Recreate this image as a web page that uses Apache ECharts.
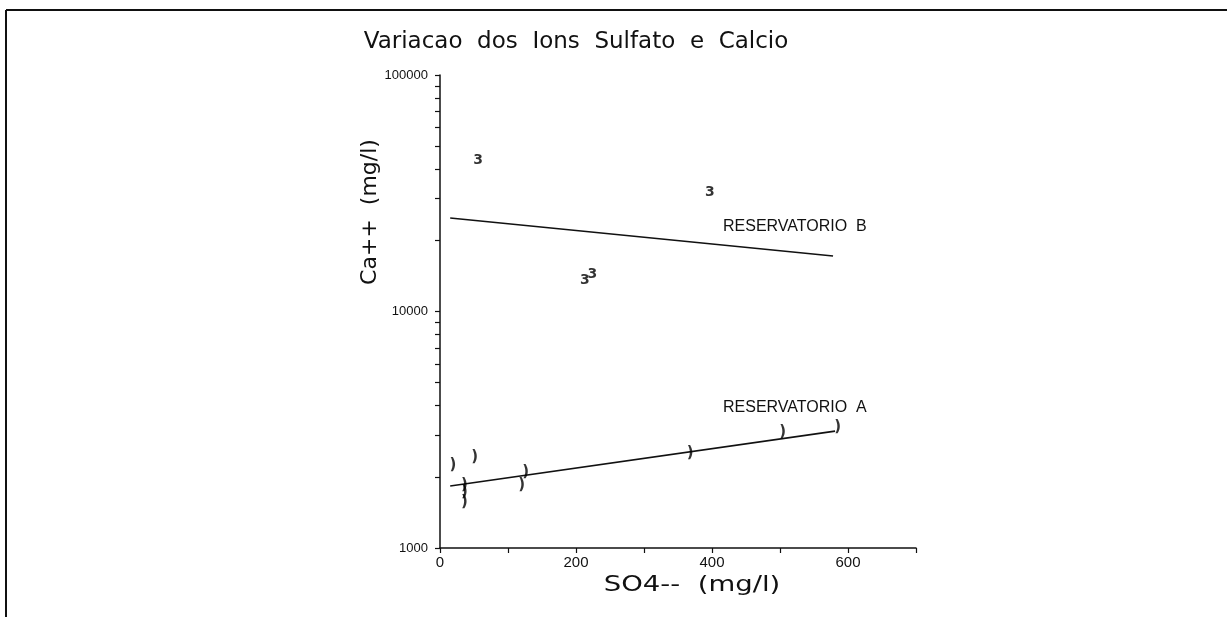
<!DOCTYPE html>
<html>
<head>
<meta charset="utf-8">
<title>Variacao dos Ions Sulfato e Calcio</title>
<script src="https://cdn.jsdelivr.net/npm/echarts@6/dist/echarts.min.js"></script>
<style>
  html, body { margin: 0; padding: 0; background: #fff; }
  #chart { width: 1227px; height: 617px; }
</style>
</head>
<body>
<div id="chart"></div>
<script>
// Reservatorio A samples: sulfate (mg/l) vs calcium (mg/l)
const so4A = [19, 51, 36, 36, 36, 126, 120, 368, 504, 585];
const caA  = [2240, 2430, 1850, 1720, 1570, 2100, 1850, 2530, 3090, 3250];

// Reservatorio B samples
const so4B = [56, 397, 213, 224];
const caB  = [43700, 32000, 13600, 14300];

// Fitted trend lines (end points)
const fitA_x = [15, 581];
const fitA_y = [1830, 3120];
const fitB_x = [15, 578];
const fitB_y = [24850, 17170];

// Axis ticks and labels
const xTicks = [0, 100, 200, 300, 400, 500, 600, 700];
const xLabels = [0, 200, 400, 600];
const yTicks = [1000, 2000, 3000, 4000, 5000, 6000, 7000, 8000, 9000,
                10000, 20000, 30000, 40000, 50000, 60000, 70000, 80000, 90000, 100000];
const yLabels = [1000, 10000, 100000];

const titleText = 'Variacao  dos  Ions  Sulfato  e  Calcio';
const xName = 'SO4--  (mg/l)';
const yName = 'Ca++  (mg/l)';
const labelA = 'RESERVATORIO  A';
const labelB = 'RESERVATORIO  B';

const ink = '#111';
const chart = echarts.init(document.getElementById('chart'), null, { renderer: 'canvas' });

function pairs(xs, ys) { return xs.map((x, i) => [x, ys[i]]); }

// Scatter drawn with a character as the point marker
function glyphSeries(name, xs, ys, glyph, font) {
  return {
    name: name,
    type: 'scatter',
    data: pairs(xs, ys),
    symbol: 'circle',
    symbolSize: 2,
    itemStyle: { color: 'rgba(0,0,0,0)' },
    label: {
      show: true,
      position: 'inside',
      formatter: glyph,
      color: '#000',
      fontFamily: font.family,
      fontSize: font.size,
      fontWeight: 'bold'
    },
    emphasis: { disabled: true },
    z: 3
  };
}

const option = {
  backgroundColor: '#fff',
  animation: false,
  grid: { left: 440, right: 311, top: 75, bottom: 69, containLabel: false },
  xAxis: {
    type: 'value',
    min: 0, max: 700, interval: 100,
    axisLine: { show: true, lineStyle: { color: ink, width: 1.5 } },
    axisTick: { show: true, length: 5, lineStyle: { color: ink, width: 1.2 }, customValues: xTicks },
    axisLabel: { customValues: xLabels, color: ink, fontFamily: 'Liberation Sans', fontSize: 15, margin: 7 },
    splitLine: { show: false }
  },
  yAxis: {
    type: 'log',
    logBase: 10,
    min: 1000, max: 100000,
    axisLine: { show: true, lineStyle: { color: ink, width: 1.5 } },
    axisTick: { show: true, length: 5, lineStyle: { color: ink, width: 1.2 }, customValues: yTicks },
    axisLabel: {
      customValues: yLabels, color: ink, fontFamily: 'Liberation Sans', fontSize: 13, margin: 12,
      formatter: v => String(Math.round(v))
    },
    minorTick: { show: false },
    splitLine: { show: false }
  },
  series: [
    {
      name: 'fit A', type: 'line', data: pairs(fitA_x, fitA_y),
      symbol: 'none', lineStyle: { color: ink, width: 1.6 }, z: 2
    },
    {
      name: 'fit B', type: 'line', data: pairs(fitB_x, fitB_y),
      symbol: 'none', lineStyle: { color: ink, width: 1.6 }, z: 2
    },
    glyphSeries('A', so4A, caA, ')', { size: 15, family: 'DejaVu Sans' }),
    glyphSeries('B', so4B, caB, '3', { size: 14, family: 'DejaVu Sans' })
  ],
  graphic: [
    // page frame (top and left edges)
    { type: 'line', shape: { x1: 6, y1: 10, x2: 1227, y2: 10 }, style: { stroke: ink, lineWidth: 2 } },
    { type: 'line', shape: { x1: 6, y1: 10, x2: 6, y2: 617 }, style: { stroke: ink, lineWidth: 2 } },
    {
      type: 'text', x: 576, y: 42,
      style: { text: titleText, fill: ink, font: '23px "DejaVu Sans"', textAlign: 'center', textVerticalAlign: 'middle' }
    },
    {
      type: 'text', x: 370, y: 212, rotation: Math.PI / 2,
      style: { text: yName, fill: ink, font: '22px "DejaVu Sans"', textAlign: 'center', textVerticalAlign: 'middle' }
    },
    {
      type: 'text', x: 692, y: 585, scaleX: 1.25,
      style: { text: xName, fill: ink, font: '22px "DejaVu Sans"', textAlign: 'center', textVerticalAlign: 'middle' }
    },
    {
      type: 'text', x: 723, y: 408,
      style: { text: labelA, fill: ink, font: '16px "Liberation Sans"', textAlign: 'left', textVerticalAlign: 'middle' }
    },
    {
      type: 'text', x: 723, y: 227,
      style: { text: labelB, fill: ink, font: '16px "Liberation Sans"', textAlign: 'left', textVerticalAlign: 'middle' }
    }
  ]
};

chart.setOption(option);
</script>
</body>
</html>
